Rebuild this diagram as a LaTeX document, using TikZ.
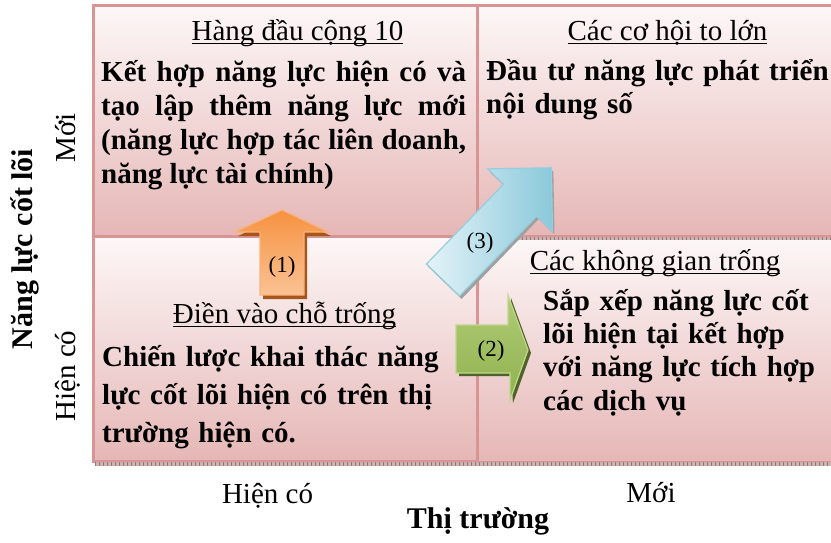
\documentclass[tikz,border=0pt]{standalone}
\usepackage{fontspec}
\setmainfont{Liberation Serif}

% cell colours
\definecolor{cellTop}{RGB}{253,247,247}
\definecolor{cellMid}{RGB}{238,209,209}
\definecolor{cellBot}{RGB}{229,183,182}
\definecolor{cellEdge}{RGB}{217,149,148}
\definecolor{stripBase}{RGB}{205,178,178}
\definecolor{stripTick}{RGB}{150,120,120}
% arrow colours
\definecolor{orTop}{RGB}{246,146,64}
\definecolor{orBot}{RGB}{250,194,148}
\definecolor{orEdge}{RGB}{249,178,124}
\definecolor{orShadow}{RGB}{166,86,24}
\definecolor{grTop}{RGB}{176,203,118}
\definecolor{grBot}{RGB}{143,178,78}
\definecolor{grEdge}{RGB}{192,215,142}
\definecolor{grShadow}{RGB}{80,98,40}
\definecolor{blLight}{RGB}{228,243,248}
\definecolor{blDark}{RGB}{138,201,218}
\definecolor{blEdge}{RGB}{150,206,221}
\definecolor{blShadow}{RGB}{160,160,160}

% underlined title text
\newsavebox\ttlbox
\newcommand\ulTitle[1]{\sbox\ttlbox{#1}\rlap{\rule[-4pt]{\wd\ttlbox}{1.4pt}}\usebox\ttlbox}

\tikzset{
  cellbox/.style={draw=cellEdge, line width=3pt, top color=cellTop, middle color=cellMid, bottom color=cellBot},
  strip/.style={line width=3.5pt, draw=stripBase},
  stripticks/.style={line width=3.5pt, draw=stripTick, dash pattern=on 0.8pt off 3.2pt},
  title/.style={font=\fontsize{29}{34}\selectfont, inner sep=0pt, anchor=base},
  body/.style={font=\bfseries\fontsize{29}{34}\selectfont, inner sep=0pt, anchor=base west},
  axislbl/.style={font=\fontsize{29}{34}\selectfont, inner sep=0pt, anchor=base},
  axisttl/.style={font=\bfseries\fontsize{30}{34}\selectfont, inner sep=0pt, anchor=base},
  numlbl/.style={font=\fontsize{23}{25}\selectfont, inner sep=0pt},
}

\begin{document}
\begin{tikzpicture}[x=1pt, y=-1pt]
\useasboundingbox[fill=white] (0,0) rectangle (831,542);

% quadrant cells
\path[cellbox] (93,5) rectangle (477,236);
\path[cellbox] (477,5) rectangle (836,236);
\path[cellbox] (93,236) rectangle (477,461);
\path[cellbox] (477,238) rectangle (836,462);

% shadow strips
\draw[strip] (95,464) -- (831,464);
\draw[stripticks] (95,464) -- (831,464);
\draw[strip] (478,238.5) -- (831,238.5);
\draw[stripticks] (478,238.5) -- (831,238.5);

% titles
\node[title] (tlTitle) at (297.5,40) {\ulTitle{Hàng đầu cộng 10}};
\node[title] (trTitle) at (667.5,40) {\ulTitle{Các cơ hội to lớn}};
\node[title] (blTitle) at (284.5,323) {\ulTitle{Điền vào chỗ trống}};
\node[title] (brTitle) at (655,270) {\ulTitle{Các không gian trống}};

% cell texts
\node[body, text width=365pt, align=justify] (tlBody) at (101,81)
  {Kết hợp năng lực hiện có và\linebreak tạo lập thêm năng lực mới\linebreak (năng lực hợp tác liên doanh,\linebreak năng lực tài chính)};
\node[body, font=\bfseries\fontsize{29}{33}\selectfont, text width=400pt, align=left] (trBody) at (486,80)
  {Đầu tư năng lực phát triển\\nội dung số};
\node[body, font=\bfseries\fontsize{29}{38}\selectfont, text width=360pt, align=left] (blBody) at (102,366)
  {Chiến lược khai thác năng\\lực cốt lõi hiện có trên thị\\trường hiện có.};
\node[body, font=\bfseries\fontsize{29}{33.4}\selectfont, text width=300pt, align=left] (brBody) at (543,310)
  {Sắp xếp năng lực cốt\\lõi hiện tại kết hợp\\với năng lực tích hợp\\các dịch vụ};

% arrow (1): upward, orange
\fill[orShadow] (263,299) -- (263,236) -- (238,236) -- (285,214) -- (331,236) -- (307,236) -- (307,299) -- cycle;
\draw[orEdge, line width=1.2pt, top color=orTop, bottom color=orBot]
  (260,295) -- (260,232) -- (235,232) -- (282,210) -- (328,232) -- (304,232) -- (304,295) -- cycle;
\node[numlbl] (n1) at (282,267) {(1)};

% arrow (2): rightward, green
\fill[grShadow] (459,328) -- (511,328) -- (511,298) -- (531,353) -- (513,403) -- (511,376) -- (459,376) -- cycle;
\draw[grEdge, line width=1.2pt, top color=grTop, bottom color=grBot]
  (456,325) -- (508,325) -- (508,295) -- (528,350) -- (510,400) -- (510,373) -- (456,373) -- cycle;
\node[numlbl] (n2) at (491,351) {(2)};

% arrow (3): diagonal, blue
\begin{scope}[shift={(445,283)}, rotate=46]
  \fill[blShadow] (0,-23) -- (111,-23) -- (111,-45) -- (156,0) -- (111,45) -- (111,23) -- (0,23) -- cycle;
\end{scope}
\begin{scope}[shift={(443,280)}, rotate=46]
  \draw[blEdge, line width=1.2pt, left color=blLight, right color=blDark]
    (0,-23) -- (111,-23) -- (111,-45) -- (156,0) -- (111,45) -- (111,23) -- (0,23) -- cycle;
\end{scope}
\node[numlbl] (n3) at (480,243) {(3)};

% axis labels
\node[axislbl] (xOld) at (267.5,503) {Hiện có};
\node[axislbl] (xNew) at (651,502) {Mới};
\node[axisttl] (xTitle) at (478,528) {Thị trường};
\node[axislbl, rotate=90] (yNew) at (75,138) {Mới};
\node[axislbl, rotate=90] (yOld) at (75,376) {Hiện có};
\node[axisttl, rotate=90] (yTitle) at (32,249) {Năng lực cốt lõi};
\end{tikzpicture}
\end{document}
